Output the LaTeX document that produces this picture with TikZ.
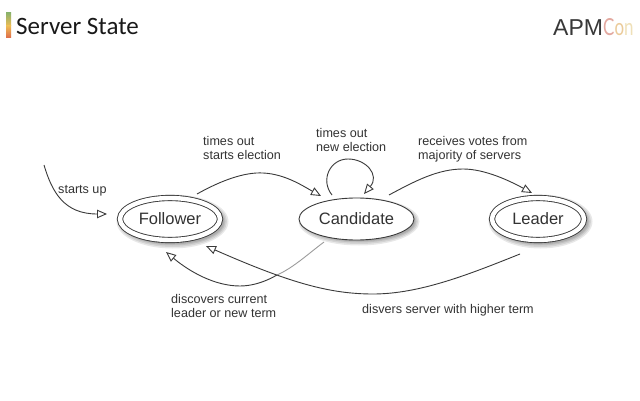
\documentclass[tikz,border=0pt]{standalone}
\usepackage{fontspec}
\setmainfont{Liberation Sans}
\newfontfamily\titlefont{Carlito}
\newfontfamily\conlogo[FakeStretch=0.72]{Lato}
\usetikzlibrary{arrows.meta,shapes.geometric}
\definecolor{ink}{HTML}{3A3A3A}
\definecolor{txt}{HTML}{333333}
\definecolor{barg}{HTML}{8DB36B}
\definecolor{bary}{HTML}{EDBB55}
\definecolor{barr}{HTML}{DE6A4A}
\definecolor{conc}{HTML}{E3A9A0}
\definecolor{cono}{HTML}{EBCB9A}
\definecolor{conn}{HTML}{EFE0B8}
\tikzset{
  state/.style={ellipse,draw=ink,line width=0.9pt,fill=white,inner sep=0pt,outer sep=0pt,font=\fontsize{16.5}{18}\selectfont,text=txt},
  dbl/.style={state,double=white,double distance=4.4pt},
  arr/.style={draw=ink,line width=0.9pt,-{Triangle[open,length=10pt,width=8.5pt,line width=0.9pt]}},
  lab/.style={align=left,anchor=north west,inner sep=0pt,font=\fontsize{12.6}{14.4}\selectfont,text=txt},
}
\newcommand{\softshadow}[3]{%
  \foreach \g in {5,3.5,2,0.8}{
    \fill[black,opacity=0.09] ([shift={(2.5,2.5)}]#1) ellipse [x radius=#2+\g-2,y radius=#3+\g-2];
  }
}
\begin{document}
\begin{tikzpicture}[x=1pt,y=-1pt]
\useasboundingbox (0,0) rectangle (640,401);
\fill[white] (0,0) rectangle (640,401);
% title bar
\shade[top color=barg,bottom color=bary] (6,13) rectangle (11,26);
\shade[top color=bary,bottom color=barr] (6,26) rectangle (11,38);
\node[anchor=base west,inner sep=0pt,font=\titlefont\fontsize{25}{28}\selectfont,text=black!90] (title) at (16,34.5) {Server State};
% logo
\node[anchor=base west,inner sep=0pt,font=\fontsize{23}{24}\selectfont,text=black!78] (apm) at (553,35.5) {APM};
\node[anchor=base west,inner sep=0pt,font=\conlogo\fontsize{23.5}{24}\selectfont] (con) at (603,35.5) {\textcolor{conc}{C}\textcolor{cono}{o}\textcolor{conn}{n}};
% coordinates for shadows
\coordinate (Fc) at (170,219);
\coordinate (Cc) at (356.5,219);
\coordinate (Lc) at (538,219);
\softshadow{Fc}{53}{24}
\softshadow{Cc}{57.5}{21}
\softshadow{Lc}{49}{24}
% states
\node[dbl,minimum width=100pt,minimum height=42pt] (F) at (Fc) {Follower};
\node[state,minimum width=115pt,minimum height=42pt] (C) at (Cc) {Candidate};
\node[dbl,minimum width=92pt,minimum height=42pt] (L) at (Lc) {Leader};
% free end
\coordinate (boot) at (44,165);
\coordinate (cross) at (277,275);
% connectors
\draw[arr] (boot) .. controls (52,192) and (64,214) .. ([shift={(-63,-5)}]F.center);
\draw[arr] ([shift={(27,-25)}]F.center) .. controls (222,180) and (245,172) .. (263,173) .. controls (285,174) and (303,186) .. ([shift={(-35.5,-23)}]C.center);
\draw[arr] ([shift={(-24.5,-24)}]C.center) .. controls (320,180) and (330,159) .. (348,159) .. controls (366,159) and (380,175) .. ([shift={(7.5,-25)}]C.center);
\draw[arr] ([shift={(32.5,-24)}]C.center) .. controls (415,181) and (438,169) .. (463,169) .. controls (485,169) and (510,181) .. ([shift={(-6,-26)}]L.center);
\draw[draw=ink!50,line width=0.9pt] ([shift={(-32.5,23)}]C.center) .. controls (308,254) and (293,268) .. (cross);
\draw[arr] (cross) .. controls (265,282) and (252,286) .. (240,286) .. controls (215,286) and (190,272) .. ([shift={(-4,33)}]F.center);
\draw[arr] ([shift={(-18,35)}]L.center) .. controls (470,274) and (420,294) .. (373,294) .. controls (330,294) and (290,283) .. ([shift={(36,27)}]F.center);
% labels
\node[lab] (l1) [at={(58,185)}] {starts up};
\node[lab] (l2) [at={(203,136)}] {times out\\starts election};
\node[lab] (l3) [at={(316,128)}] {times out\\new election};
\node[lab] (l4) [at={(418,136)}] {receives votes from\\majority of servers};
\node[lab] (l5) [at={(171,294)}] {discovers current\\leader or new term};
\node[lab] (l6) [at={(362,304)}] {disvers server with higher term};
\end{tikzpicture}
\end{document}
